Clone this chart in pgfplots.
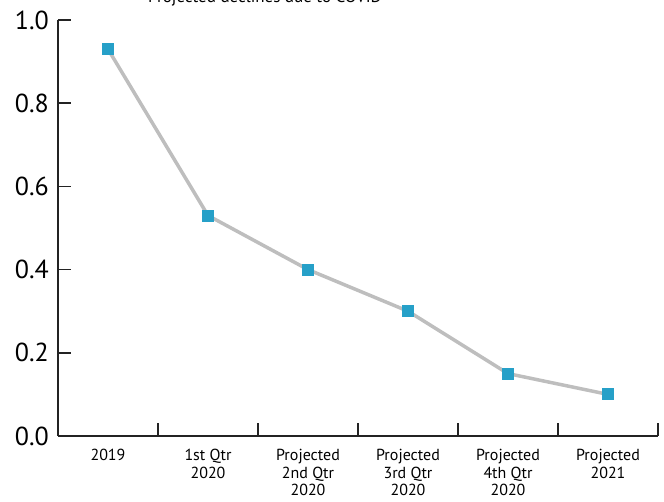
\documentclass[border=0pt]{standalone}
\usepackage{pgfplots}
\pgfplotsset{compat=1.18}
\usepackage{fontspec}
\setmainfont{PT Sans}
\definecolor{linegray}{RGB}{190,190,190}
\definecolor{markblue}{RGB}{38,160,200}
\definecolor{axisdark}{RGB}{35,35,35}
\begin{document}
\begin{tikzpicture}
\path[use as bounding box, clip] (-58pt,-66pt) rectangle (606pt,436pt);
\begin{axis}[
  at={(0pt,0pt)}, anchor=south west,
  scale only axis, width=600pt, height=416pt,
  xmin=-0.5, xmax=5.5, ymin=0, ymax=1,
  axis lines=left, axis line style={-, draw=axisdark, line width=1.6pt},
  tick align=inside,
  major tick length=13pt,
  tick style={draw=axisdark, line width=1.6pt},
  ytick={0,0.2,0.4,0.6,0.8,1.0},
  /pgf/number format/assume math mode=true,
  yticklabel style={/pgf/number format/fixed, /pgf/number format/fixed zerofill, /pgf/number format/precision=1, font=\fontsize{26}{26}\selectfont, anchor=east, inner sep=0pt, xshift=-9pt},
  xtick={0.5,1.5,2.5,3.5,4.5,5.5}, xticklabels={},
  extra x ticks={0,1,2,3,4,5},
  extra x tick labels={2019, 1st Qtr\\2020, Projected\\2nd Qtr\\2020, Projected\\3rd Qtr\\2020, Projected\\4th Qtr\\2020, Projected\\2021},
  extra x tick style={tick style={draw=none}},
  xticklabel style={align=center, font=\fontsize{16}{17.5}\selectfont, anchor=north, inner sep=0pt, yshift=-13pt},
]
\addplot[linegray, line width=3.5pt, mark=square*, mark size=5.5pt, mark options={draw=markblue, fill=markblue, line width=0pt}] coordinates {
(0,0.93) (1,0.53) (2,0.40) (3,0.30) (4,0.15) (5,0.10)
};
\end{axis}
\node[font=\fontsize{17}{17}\selectfont, anchor=base] at (207pt,433pt) {Projected declines due to COVID};
\end{tikzpicture}
\end{document}
